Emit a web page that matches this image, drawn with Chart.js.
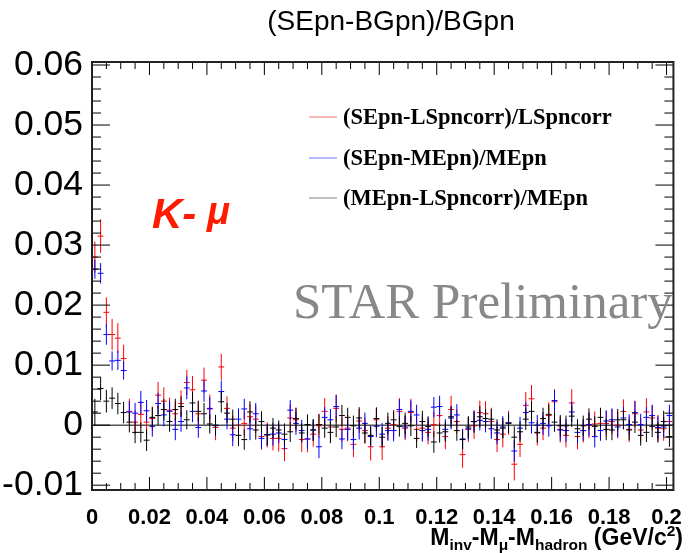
<!DOCTYPE html>
<html><head><meta charset="utf-8">
<script src="https://cdn.jsdelivr.net/npm/chart.js@4.4.0/dist/chart.umd.min.js"></script>
<style>html,body{margin:0;padding:0;background:#fff}#wrap{position:relative;width:697px;height:553px}</style>
</head><body><div id="wrap"><canvas id="c" width="697" height="553"></canvas></div>
<script>
const binCenters = [0.001,0.003,0.005,0.007,0.009,0.011,0.013,0.015,0.017,0.019,
0.021,0.023,0.025,0.027,0.029,0.031,0.033,0.035,0.037,0.039,
0.041,0.043,0.045,0.047,0.049,0.051,0.053,0.055,0.057,0.059,
0.061,0.063,0.065,0.067,0.069,0.071,0.073,0.075,0.077,0.079,
0.081,0.083,0.085,0.087,0.089,0.091,0.093,0.095,0.097,0.099,
0.101,0.103,0.105,0.107,0.109,0.111,0.113,0.115,0.117,0.119,
0.121,0.123,0.125,0.127,0.129,0.131,0.133,0.135,0.137,0.139,
0.141,0.143,0.145,0.147,0.149,0.151,0.153,0.155,0.157,0.159,
0.161,0.163,0.165,0.167,0.169,0.171,0.173,0.175,0.177,0.179,
0.181,0.183,0.185,0.187,0.189,0.191,0.193,0.195,0.197,0.199,0.201];

const redValues = [0.0280,0.0315,0.0188,0.0151,0.0145,0.0111,0.0023,0.0005,0.0018,0.0005,
0.0011,0.0050,0.0040,0.0025,0.0019,0.0036,0.0071,0.0059,0.0019,0.0075,
0.0027,-0.0004,0.0097,0.0028,-0.0005,0.0000,0.0003,0.0014,0.0010,-0.0019,
-0.0016,-0.0022,-0.0022,-0.0039,0.0012,0.0009,-0.0024,-0.0023,-0.0015,-0.0001,
0.0023,-0.0003,0.0028,-0.0007,-0.0005,-0.0032,0.0007,-0.0009,-0.0036,0.0009,
-0.0036,-0.0005,0.0001,0.0023,-0.0005,0.0021,-0.0007,-0.0005,-0.0012,0.0001,
0.0016,-0.0019,0.0026,0.0006,-0.0049,-0.0007,-0.0001,0.0021,0.0019,0.0006,
-0.0024,-0.0015,0.0004,-0.0065,-0.0032,0.0033,0.0044,-0.0013,-0.0005,0.0016,
0.0039,-0.0007,-0.0017,0.0037,-0.0019,-0.0009,0.0000,0.0002,0.0003,0.0003,
0.0006,0.0000,0.0023,-0.0007,0.0019,-0.0008,0.0022,0.0012,-0.0005,-0.0006,0.0006];
const redErrors = [0.0026,0.0028,0.0025,0.0026,0.0025,0.0023,0.0021,0.0020,0.0022,0.0021,
0.0020,0.0022,0.0023,0.0021,0.0020,0.0022,0.0021,0.0023,0.0022,0.0021,
0.0024,0.0021,0.0022,0.0020,0.0021,0.0022,0.0020,0.0021,0.0023,0.0022,
0.0021,0.0020,0.0022,0.0021,0.0023,0.0020,0.0021,0.0022,0.0021,0.0020,
0.0022,0.0021,0.0023,0.0020,0.0022,0.0021,0.0020,0.0022,0.0023,0.0021,
0.0022,0.0020,0.0021,0.0022,0.0020,0.0023,0.0021,0.0022,0.0020,0.0021,
0.0022,0.0021,0.0023,0.0020,0.0022,0.0021,0.0022,0.0020,0.0021,0.0023,
0.0021,0.0022,0.0020,0.0027,0.0021,0.0022,0.0023,0.0021,0.0020,0.0022,
0.0021,0.0022,0.0020,0.0023,0.0021,0.0020,0.0022,0.0021,0.0023,0.0020,
0.0021,0.0022,0.0020,0.0021,0.0022,0.0020,0.0023,0.0021,0.0022,0.0020,0.0021];

const blueValues = [0.0260,0.0253,0.0151,0.0107,0.0108,0.0091,0.0022,0.0020,0.0038,0.0024,
-0.0002,0.0036,0.0017,0.0023,-0.0007,0.0006,0.0062,0.0023,-0.0004,0.0057,
0.0028,-0.0001,0.0056,0.0010,-0.0016,0.0010,0.0027,-0.0006,0.0019,-0.0022,
-0.0016,-0.0015,-0.0013,-0.0024,0.0025,0.0003,-0.0009,-0.0023,-0.0008,-0.0036,
0.0013,0.0009,0.0031,-0.0023,-0.0007,-0.0024,-0.0005,0.0003,-0.0019,-0.0002,
-0.0015,-0.0009,-0.0009,0.0026,-0.0003,0.0023,0.0017,-0.0009,-0.0007,0.0030,
0.0031,-0.0007,0.0012,0.0017,-0.0023,-0.0006,0.0006,0.0008,0.0006,-0.0006,
-0.0013,-0.0003,0.0004,-0.0043,-0.0005,0.0021,0.0004,0.0000,0.0003,-0.0001,
0.0041,-0.0008,-0.0009,0.0022,-0.0012,-0.0009,0.0001,-0.0019,-0.0009,0.0007,
0.0009,-0.0003,0.0012,0.0001,0.0021,0.0001,0.0013,0.0016,-0.0004,-0.0003,0.0016];
const blueErrors = [0.0016,0.0017,0.0017,0.0016,0.0016,0.0015,0.0018,0.0017,0.0019,0.0018,
0.0017,0.0018,0.0019,0.0017,0.0018,0.0017,0.0019,0.0018,0.0017,0.0018,
0.0019,0.0017,0.0018,0.0017,0.0019,0.0018,0.0017,0.0019,0.0018,0.0017,
0.0018,0.0019,0.0017,0.0018,0.0017,0.0019,0.0018,0.0017,0.0018,0.0019,
0.0017,0.0018,0.0019,0.0017,0.0018,0.0017,0.0019,0.0018,0.0017,0.0018,
0.0019,0.0017,0.0018,0.0017,0.0019,0.0018,0.0017,0.0018,0.0019,0.0017,
0.0018,0.0017,0.0019,0.0018,0.0017,0.0018,0.0019,0.0017,0.0018,0.0017,
0.0019,0.0018,0.0017,0.0018,0.0019,0.0017,0.0018,0.0017,0.0019,0.0018,
0.0017,0.0018,0.0019,0.0017,0.0018,0.0017,0.0019,0.0018,0.0017,0.0018,
0.0019,0.0017,0.0018,0.0017,0.0019,0.0018,0.0017,0.0018,0.0019,0.0017,0.0018];

const blackValues = [0.0022,0.0061,0.0040,0.0045,0.0036,0.0021,0.0005,-0.0012,-0.0012,-0.0025,
0.0013,0.0016,0.0026,0.0006,0.0026,0.0031,0.0009,0.0037,0.0023,0.0019,
0.0002,0.0000,0.0039,0.0020,0.0010,-0.0017,-0.0024,0.0022,-0.0008,0.0006,
-0.0016,-0.0005,-0.0008,-0.0015,-0.0011,0.0011,-0.0013,0.0001,-0.0008,0.0001,
-0.0005,-0.0012,-0.0003,0.0016,0.0013,-0.0001,0.0012,-0.0013,-0.0017,0.0011,
-0.0020,0.0003,0.0009,-0.0002,0.0003,-0.0001,-0.0022,0.0006,-0.0002,-0.0028,
-0.0013,-0.0011,0.0014,-0.0009,-0.0024,-0.0003,0.0006,0.0014,0.0011,0.0010,
-0.0008,-0.0005,0.0003,-0.0020,-0.0011,0.0010,0.0023,-0.0012,0.0011,0.0018,
0.0005,-0.0001,-0.0001,0.0015,-0.0006,-0.0001,0.0010,-0.0002,0.0013,-0.0007,
-0.0008,0.0009,0.0009,-0.0008,0.0005,-0.0017,-0.0012,-0.0002,-0.0012,0.0006,-0.0019];
const blackErrors = [0.0022,0.0019,0.0019,0.0018,0.0018,0.0018,0.0017,0.0018,0.0017,0.0018,
0.0017,0.0016,0.0018,0.0017,0.0018,0.0017,0.0016,0.0018,0.0017,0.0018,
0.0016,0.0017,0.0018,0.0017,0.0016,0.0018,0.0017,0.0018,0.0016,0.0017,
0.0018,0.0017,0.0016,0.0018,0.0017,0.0018,0.0016,0.0017,0.0018,0.0017,
0.0016,0.0018,0.0017,0.0018,0.0016,0.0017,0.0018,0.0017,0.0016,0.0018,
0.0017,0.0018,0.0016,0.0017,0.0018,0.0017,0.0016,0.0018,0.0017,0.0018,
0.0016,0.0017,0.0018,0.0017,0.0016,0.0018,0.0017,0.0018,0.0016,0.0017,
0.0018,0.0017,0.0016,0.0018,0.0017,0.0018,0.0016,0.0017,0.0018,0.0017,
0.0016,0.0018,0.0017,0.0018,0.0016,0.0017,0.0018,0.0017,0.0016,0.0018,
0.0017,0.0018,0.0016,0.0017,0.0018,0.0017,0.0016,0.0018,0.0017,0.0018,0.0017];

const seriesNames = ['(SEpn-LSpncorr)/LSpncorr','(SEpn-MEpn)/MEpn','(MEpn-LSpncorr)/MEpn'];
const seriesColors = ['#ff0000','#0000ff','#000000'];
const legendLineColors = ['#f07070','#7070ff','#808080'];
const xTickValues = [0,0.02,0.04,0.06,0.08,0.1,0.12,0.14,0.16,0.18,0.2];
const xTickLabels = ['0','0.02','0.04','0.06','0.08','0.1','0.12','0.14','0.16','0.18','0.2'];
const yTickValues = [-0.01,0,0.01,0.02,0.03,0.04,0.05,0.06];
const yTickLabels = ['-0.01','0','0.01','0.02','0.03','0.04','0.05','0.06'];
const titleText = '(SEpn-BGpn)/BGpn';

const valueSets = [redValues, blueValues, blackValues];
const errorSets = [redErrors, blueErrors, blackErrors];

const datasets = valueSets.map((vals, k) => ({
  label: seriesNames[k],
  data: binCenters.map((c, i) => ({x: c, y: vals[i]})),
  showLine: false,
  pointStyle: 'line',
  pointRadius: 2.92,
  pointHoverRadius: 2.92,
  pointBorderWidth: 1,
  borderColor: seriesColors[k],
  backgroundColor: seriesColors[k],
  order: 2 - k
}));

function drawRich(ctx, parts, rightX, baseline) {
  let total = 0;
  parts.forEach(p => { ctx.font = 'bold ' + p.s + 'px "Liberation Sans", Arial, sans-serif'; p.w = ctx.measureText(p.t).width; total += p.w; });
  let x = rightX - total;
  parts.forEach(p => {
    ctx.font = 'bold ' + p.s + 'px "Liberation Sans", Arial, sans-serif';
    ctx.fillText(p.t, x, baseline + (p.dy || 0));
    x += p.w;
  });
}

const rootStyle = {
  id: 'rootStyle',
  beforeDatasetsDraw(chart) {
    const {ctx, chartArea: a, scales: {y}} = chart;
    const y0 = y.getPixelForValue(0);
    ctx.save();
    ctx.strokeStyle = '#000'; ctx.lineWidth = 1;
    ctx.beginPath(); ctx.moveTo(a.left, y0); ctx.lineTo(a.right, y0); ctx.stroke();
    ctx.restore();
  },
  beforeDatasetDraw(chart, args) {
    const k = args.index;
    const {ctx, chartArea: a, scales: {x, y}} = chart;
    const vals = valueSets[k], errs = errorSets[k];
    ctx.save();
    ctx.beginPath(); ctx.rect(a.left, a.top, a.right - a.left, a.bottom - a.top); ctx.clip();
    ctx.strokeStyle = seriesColors[k]; ctx.lineWidth = 1;
    ctx.beginPath();
    binCenters.forEach((c, i) => {
      const px = x.getPixelForValue(c);
      ctx.moveTo(px, y.getPixelForValue(vals[i] - errs[i]));
      ctx.lineTo(px, y.getPixelForValue(vals[i] + errs[i]));
    });
    ctx.stroke();
    ctx.restore();
  },
  afterDraw(chart) {
    const {ctx, chartArea: a, scales: {x, y}} = chart;
    ctx.save();
    // ticks inside
    ctx.strokeStyle = '#000'; ctx.lineWidth = 1;
    ctx.beginPath();
    for (let v = -0.01; v <= 0.0605; v += 0.002) {
      const vv = Math.round(v * 1000) / 1000;
      const py = y.getPixelForValue(vv);
      if (py < a.top || py > a.bottom) continue;
      const major = Math.abs(vv * 100 - Math.round(vv * 100)) < 1e-6;
      const L = major ? 18 : 9;
      ctx.moveTo(a.left, py); ctx.lineTo(a.left + L, py);
      ctx.moveTo(a.right, py); ctx.lineTo(a.right - L, py);
    }
    for (let v = 0; v <= 0.2025; v += 0.005) {
      const vv = Math.round(v * 1000) / 1000;
      const px = x.getPixelForValue(vv);
      if (px < a.left || px > a.right) continue;
      const major = Math.abs(vv * 50 - Math.round(vv * 50)) < 1e-6;
      const L = major ? 13 : 7;
      ctx.moveTo(px, a.bottom); ctx.lineTo(px, a.bottom - L);
      ctx.moveTo(px, a.top); ctx.lineTo(px, a.top + L);
    }
    ctx.stroke();
    // frame
    ctx.lineWidth = 2; ctx.strokeStyle = '#222';
    ctx.strokeRect(a.left, a.top, a.right - a.left, a.bottom - a.top);
    // title
    ctx.fillStyle = '#000';
    ctx.font = '28px "Liberation Sans", Arial, sans-serif';
    ctx.textAlign = 'center'; ctx.textBaseline = 'alphabetic';
    ctx.fillText(titleText, 391, 30);
    // legend
    ctx.textAlign = 'left'; ctx.textBaseline = 'middle';
    ctx.font = 'bold 22.5px "Liberation Serif", "Times New Roman", serif';
    const ly = [117, 158, 198];
    seriesNames.forEach((n, k) => {
      ctx.strokeStyle = legendLineColors[k]; ctx.lineWidth = 1;
      ctx.beginPath(); ctx.moveTo(309, ly[k]); ctx.lineTo(337, ly[k]); ctx.stroke();
      ctx.fillStyle = '#000';
      ctx.fillText(n, 343, ly[k] + 1);
    });
    // K- mu
    ctx.textBaseline = 'alphabetic';
    ctx.fillStyle = '#ff1a00';
    ctx.font = 'bold italic 42px "Liberation Sans", Arial, sans-serif';
    ctx.fillText('K-', 152, 228);
    ctx.font = 'bold italic 38px "Liberation Sans", Arial, sans-serif';
    ctx.fillText('\u03bc', 207, 224);
    // STAR Preliminary
    ctx.fillStyle = '#888888';
    ctx.font = '51px "Liberation Serif", "Times New Roman", serif';
    ctx.fillText('STAR Preliminary', 293, 318);
    // x axis title
    ctx.fillStyle = '#000';
    drawRich(ctx, [
      {t: 'M', s: 23}, {t: 'inv', s: 15.5, dy: 5}, {t: '-M', s: 23}, {t: '\u03bc', s: 15.5, dy: 5},
      {t: '-M', s: 23}, {t: 'hadron', s: 15.5, dy: 5}, {t: ' (GeV/c', s: 23}, {t: '2', s: 15.5, dy: -9}, {t: ')', s: 23}
    ], 683, 545);
    ctx.restore();
  }
};

new Chart(document.getElementById('c'), {
  type: 'scatter',
  data: {datasets},
  options: {
    responsive: false,
    devicePixelRatio: 1,
    animation: false,
    layout: {padding: {left: 0, right: 14, top: 62, bottom: 0}},
    plugins: {legend: {display: false}, tooltip: {enabled: false}, title: {display: false}},
    scales: {
      x: {
        type: 'linear', min: 0, max: 0.2024,
        afterBuildTicks: s => { s.ticks = xTickValues.map(v => ({value: v})); },
        afterFit: s => { s.height = 63; },
        grid: {display: false, drawTicks: false},
        border: {display: false},
        ticks: {
          autoSkip: false, maxRotation: 0, padding: 15, color: '#000',
          font: {family: '"Liberation Sans", Arial, sans-serif', size: 22, weight: 'bold'},
          callback: (v) => { const i = xTickValues.findIndex(t => Math.abs(t - v) < 1e-9); return i >= 0 ? xTickLabels[i] : ''; }
        }
      },
      y: {
        type: 'linear', min: -0.0108, max: 0.0605,
        afterBuildTicks: s => { s.ticks = yTickValues.map(v => ({value: v})); },
        afterFit: s => { s.width = 92; },
        grid: {display: false, drawTicks: false},
        border: {display: false},
        ticks: {
          autoSkip: false, padding: 9, color: '#000',
          font: {family: '"Liberation Sans", Arial, sans-serif', size: 35.5, weight: 'normal'},
          callback: (v) => { const i = yTickValues.findIndex(t => Math.abs(t - v) < 1e-9); return i >= 0 ? yTickLabels[i] : ''; }
        }
      }
    }
  },
  plugins: [rootStyle]
});
</script>
</body></html>
